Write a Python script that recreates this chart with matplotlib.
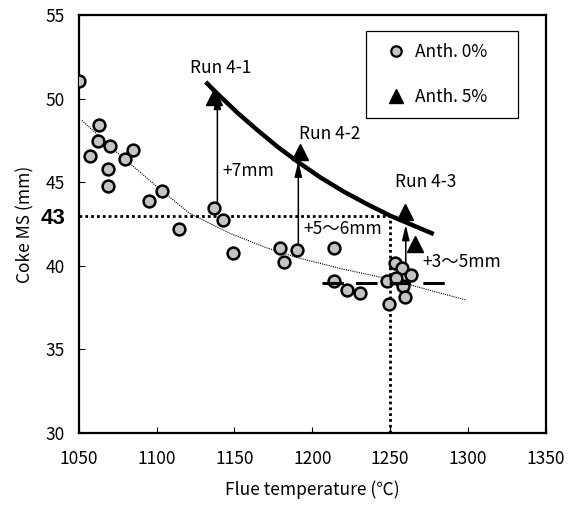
import matplotlib
matplotlib.use("Agg")
import matplotlib.pyplot as plt
from matplotlib.lines import Line2D

plt.rcParams['font.family'] = ['Noto Sans CJK JP', 'DejaVu Sans']

# ---- data ----
anth0_temp = [1050, 1063, 1062.5, 1057, 1070, 1068.5, 1069, 1079.5, 1084.5, 1095, 1103.5,
              1114.5, 1137, 1142.5, 1149, 1179.5, 1181.5, 1190, 1214, 1214, 1222.5, 1230.5,
              1253, 1257.5, 1263.5, 1258.5, 1259.5, 1249, 1248, 1254]
anth0_ms = [51.05, 48.4, 47.5, 46.6, 47.2, 45.8, 44.8, 46.4, 46.95, 43.9, 44.5,
            42.2, 43.45, 42.75, 40.75, 41.05, 40.25, 40.95, 41.05, 39.1, 38.55, 38.35,
            40.2, 39.85, 39.45, 38.8, 38.15, 37.7, 39.1, 39.3]

anth5_temp = [1137, 1192, 1259.5, 1266]
anth5_ms = [50.1, 46.8, 43.2, 41.3]

# trend line for Anth. 0% (thin dotted)
fit0_temp = [1052, 1075, 1100, 1121, 1147, 1170, 1190, 1220, 1250, 1275, 1299]
fit0_ms = [48.7, 46.75, 44.75, 43.15, 41.95, 41.1, 40.5, 39.8, 39.2, 38.55, 37.95]

# trend line for Anth. 5% (thick)
fit5_temp = [1131.5, 1139, 1152, 1165, 1178, 1191, 1205, 1220, 1235, 1250, 1264, 1278]
fit5_ms = [51.0, 50.3, 49.15, 48.1, 47.1, 46.2, 45.3, 44.45, 43.7, 43.0, 42.45, 41.9]

# improvement arrows
arrow_temp = [1139, 1191, 1260]
arrow_from = [43.75, 41.3, 40.1]
arrow_to = [50.3, 46.25, 42.45]
arrow_labels = ['+7mm', '+5～6mm', '+3～5mm']
arrow_label_t = [1142.5, 1194.5, 1270.5]
arrow_label_v = [45.7, 42.2, 40.25]

run_labels = ['Run 4-1', 'Run 4-2', 'Run 4-3']
run_label_t = [1141, 1211, 1272.5]
run_label_v = [51.85, 47.9, 45.0]

target_ms = 43
target_temp = 1250
base_ms = 39.0
base_line_t = [1206, 1292]

xticks = [1050, 1100, 1150, 1200, 1250, 1300, 1350]
yticks = [30, 35, 40, 45, 50, 55]

FS = 12.5

# ---- figure ----
fig = plt.figure(figsize=(5.71, 5.05), dpi=100)
ax = fig.add_axes([0.138, 0.1426, 0.818, 0.8274])
ax.set_xlim(1050, 1350)
ax.set_ylim(30, 55)

# target dotted lines
ax.plot([1050, target_temp], [target_ms, target_ms], color='black', lw=2.0,
        linestyle=(0, (1, 1.1)), zorder=2)
ax.plot([target_temp, target_temp], [30, target_ms], color='black', lw=2.0,
        linestyle=(0, (1, 1.1)), zorder=2)

# trend lines
ax.plot(fit0_temp, fit0_ms, color='black', lw=0.8, linestyle=(0, (1, 1)), zorder=2)
ax.plot(fit5_temp, fit5_ms, color='black', lw=3.2, zorder=3, solid_capstyle='butt')

# data points
ax.plot(anth0_temp, anth0_ms, linestyle='none', marker='o', markersize=8.5,
        markerfacecolor='#c4c4c4', markeredgecolor='black', markeredgewidth=1.8, zorder=4)
ax.plot(anth5_temp, anth5_ms, linestyle='none', marker='^', markersize=11.5,
        markerfacecolor='black', markeredgecolor='black', zorder=5)

# base dashed line
ax.plot(base_line_t, [base_ms, base_ms], color='black', lw=2.2,
        linestyle=(0, (7, 4)), zorder=6)

# arrows
for t, a, b in zip(arrow_temp, arrow_from, arrow_to):
    ax.annotate('', xy=(t, b), xytext=(t, a),
                arrowprops=dict(arrowstyle='-|>,head_length=0.9,head_width=0.22',
                                lw=1.1, color='black', shrinkA=0, shrinkB=0),
                zorder=6)

for lab, t, v in zip(arrow_labels, arrow_label_t, arrow_label_v):
    ax.text(t, v, lab, fontsize=FS, ha='left', va='center', zorder=7)

for lab, t, v in zip(run_labels, run_label_t, run_label_v):
    ax.text(t, v, lab, fontsize=FS, ha='center', va='center', zorder=7)

# axes styling
for s in ax.spines.values():
    s.set_linewidth(1.6)
ax.set_xticks(xticks)
ax.set_yticks(yticks + [target_ms])
ylabels = [str(v) for v in yticks] + [str(target_ms)]
ax.set_yticklabels(ylabels)
ax.tick_params(direction='in', length=4, width=0.8, labelsize=FS)
ax.tick_params(axis='x', pad=12)
ax.tick_params(axis='y', pad=10)
for lbl in ax.get_yticklabels():
    if lbl.get_text() == str(target_ms):
        lbl.set_fontsize(16)
        lbl.set_fontweight('bold')
        lbl.set_fontfamily(['Liberation Sans', 'DejaVu Sans'])
ax.yaxis.get_major_ticks()[-1].tick1line.set_visible(False)

ax.set_xlabel('Flue temperature (℃)', fontsize=FS, labelpad=9)
ax.set_ylabel('Coke MS (mm)', fontsize=FS, labelpad=4)

handles = [
    Line2D([], [], linestyle='none', marker='o', markersize=7.5, markerfacecolor='#c4c4c4',
           markeredgecolor='black', markeredgewidth=1.6),
    Line2D([], [], linestyle='none', marker='^', markersize=10, markerfacecolor='black',
           markeredgecolor='black'),
]
leg = ax.legend(handles, ['Anth. 0%', 'Anth. 5%'], loc='upper left',
                bbox_to_anchor=(0.615, 0.962, 0.325, 0.0), mode='expand',
                borderaxespad=0, borderpad=0.7, labelspacing=1.55, handlelength=2.0,
                handletextpad=0.1, fancybox=False, framealpha=1, edgecolor='black',
                fontsize=FS)
leg.get_frame().set_linewidth(0.9)

fig.savefig('out.png', dpi=100)
